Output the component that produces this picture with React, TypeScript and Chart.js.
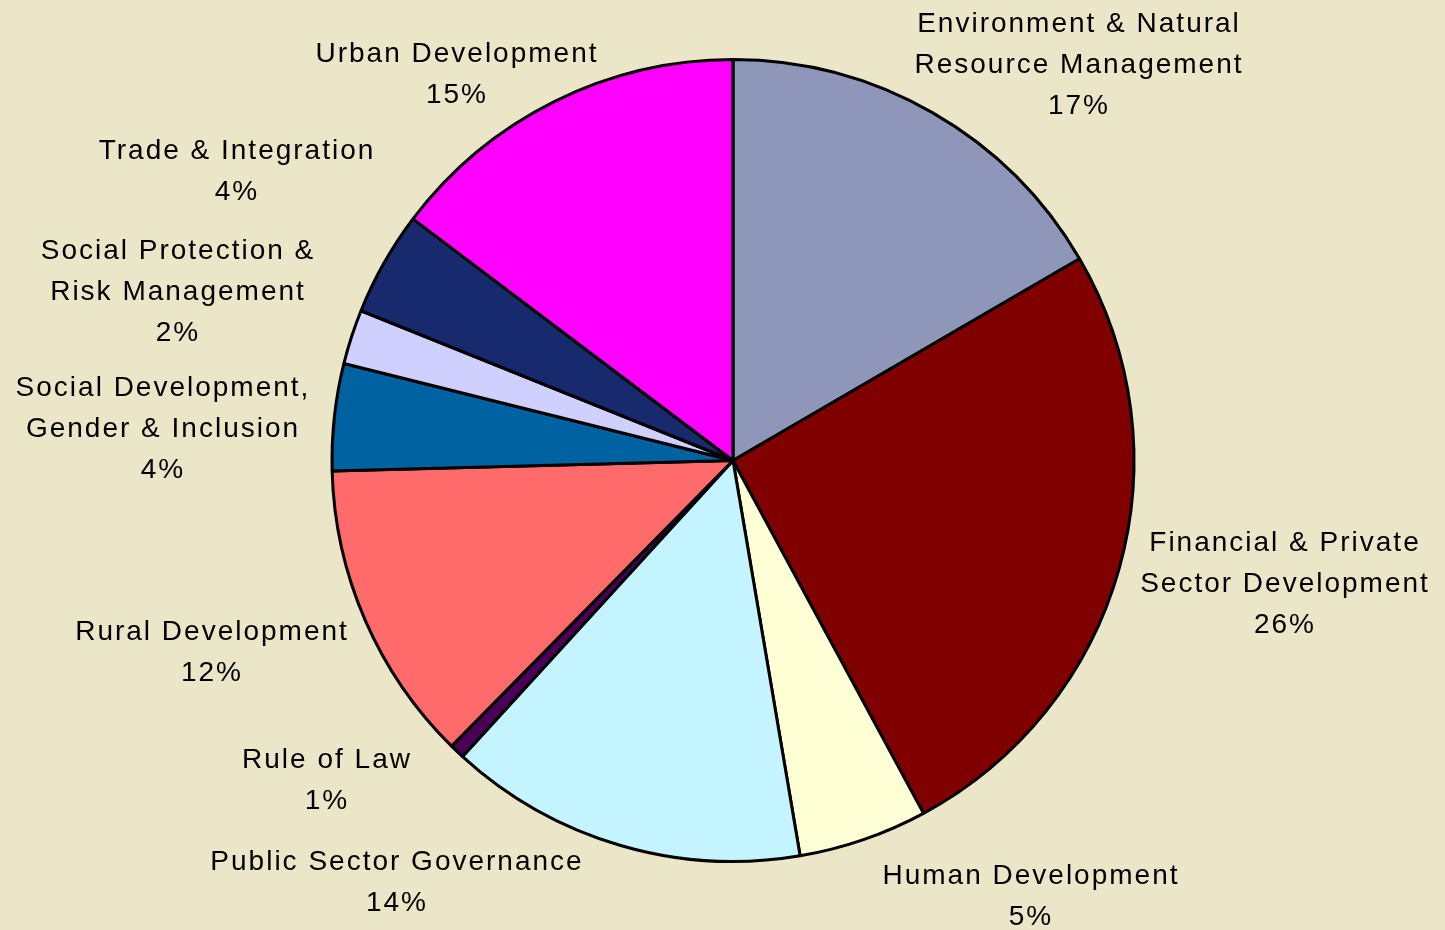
import React, { useEffect, useRef } from "react";
import { Chart, registerables } from "chart.js";

Chart.register(...registerables);

const categories: string[][] = [
  ["Environment & Natural", "Resource Management"],
  ["Financial & Private", "Sector Development"],
  ["Human Development"],
  ["Public Sector Governance"],
  ["Rule of Law"],
  ["Rural Development"],
  ["Social Development,", "Gender & Inclusion"],
  ["Social Protection &", "Risk Management"],
  ["Trade & Integration"],
  ["Urban Development"],
];

const shares: number[] = [16.6, 25.5, 5.2, 14.45, 0.6, 12.2, 4.3, 2.2, 4.2, 14.7];

const sliceColors: string[] = [
  "#8E97BA",
  "#800000",
  "#FFFFD5",
  "#C4F4FF",
  "#4B0057",
  "#FF6B6B",
  "#0062A0",
  "#D0D0FF",
  "#172A6E",
  "#FF00FF",
];

// label block centres relative to the pie centre (layout only)
const labelOffsets: [number, number][] = [
  [346, -398],
  [552, 121],
  [298, 434],
  [-336, 420],
  [-406, 318],
  [-521, 190],
  [-570, -34],
  [-555, -171],
  [-496, -291],
  [-276, -388],
];

const BG = "#ECE6C8";
const LINE_H = 41;
const FONT_PX = 28;

const labelPlugin = {
  id: "outsideLabels",
  afterDraw(chart: any) {
    const meta = chart.getDatasetMeta(0);
    if (!meta || !meta.data.length) return;
    const cx = meta.data[0].x;
    const cy = meta.data[0].y;
    const data = chart.data.datasets[0].data as number[];
    const total = data.reduce((a, b) => a + b, 0);
    const ctx = chart.ctx as CanvasRenderingContext2D;
    ctx.save();
    ctx.font = `${FONT_PX}px "Liberation Sans", Arial, sans-serif`;
    (ctx as any).letterSpacing = "2px";
    ctx.fillStyle = "#000";
    ctx.textAlign = "center";
    ctx.textBaseline = "alphabetic";
    categories.forEach((lines, i) => {
      const pct = Math.round((data[i] / total) * 100) + "%";
      const all = [...lines, pct];
      const [ox, oy] = labelOffsets[i];
      const bx = cx + ox;
      const by = cy + oy;
      const startY = by - ((all.length - 1) * LINE_H) / 2;
      all.forEach((t, k) => {
        const capCenter = startY + k * LINE_H;
        ctx.fillText(t, bx, capCenter + FONT_PX * 0.358);
      });
    });
    ctx.restore();
  },
};

export default function App() {
  const ref = useRef<HTMLCanvasElement | null>(null);
  useEffect(() => {
    if (!ref.current) return;
    const chart = new Chart(ref.current, {
      type: "pie",
      data: {
        labels: categories.map((c) => c.join(" ")),
        datasets: [
          {
            data: shares,
            backgroundColor: sliceColors,
            borderColor: "#000000",
            borderWidth: 3,
          },
        ],
      },
      options: {
        responsive: true,
        maintainAspectRatio: false,
        animation: false,
        layout: { padding: { top: 58, bottom: 67, left: 221, right: 200 } },
        plugins: {
          legend: { display: false },
          tooltip: { enabled: false },
        },
      },
      plugins: [labelPlugin],
    });
    return () => chart.destroy();
  }, []);
  return (
    <div
      style={{
        position: "absolute",
        left: 0,
        top: 0,
        width: 1445,
        height: 930,
        background: BG,
      }}
    >
      <canvas ref={ref} />
    </div>
  );
}
